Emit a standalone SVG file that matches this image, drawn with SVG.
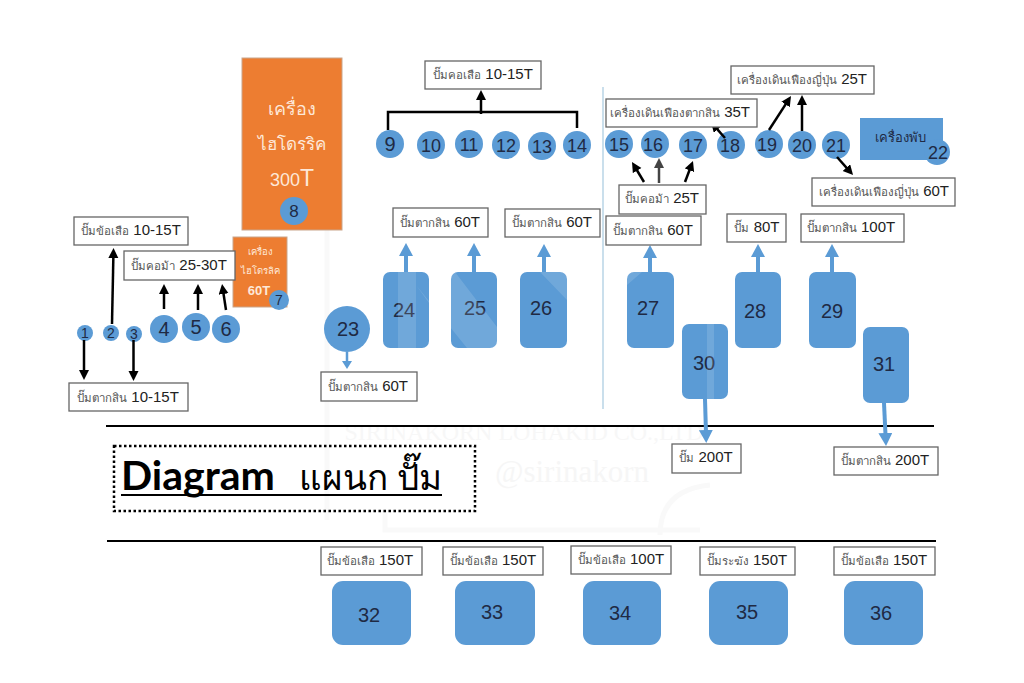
<svg xmlns="http://www.w3.org/2000/svg" width="1024" height="683" viewBox="0 0 1024 683">
<defs>
<marker id="ab" markerUnits="userSpaceOnUse" markerWidth="10" markerHeight="11" refX="3" refY="5" orient="auto"><path d="M0 0L10 5L0 10Z" fill="#000"/></marker>
<marker id="ag" markerUnits="userSpaceOnUse" markerWidth="10" markerHeight="11" refX="3" refY="5" orient="auto"><path d="M0 0L10 5L0 10Z" fill="#444"/></marker>
<marker id="au" markerUnits="userSpaceOnUse" markerWidth="14" markerHeight="15" refX="4" refY="7" orient="auto"><path d="M0 0L13 7L0 14Z" fill="#5b9bd5"/></marker>
<marker id="as" markerUnits="userSpaceOnUse" markerWidth="9" markerHeight="11" refX="2" refY="5" orient="auto"><path d="M0 0L8 5L0 10Z" fill="#5b9bd5"/></marker>
</defs>
<style>
text{font-family:"Liberation Sans","Noto Sans",sans-serif;text-anchor:middle}
.c{fill:#5b9bd5}
.or{fill:#ed7d31;stroke:#c9a68c;stroke-width:1}
.n{font-size:20px;fill:#1f2a44}
.m{font-size:18px;fill:#1f2a44}
.ns{font-size:14px;fill:#1f2a44}
.b{fill:#fff;stroke:#666;stroke-width:1.3}
.l{font-size:15px;fill:#222}
.t{font-size:11.5px;fill:#555;font-family:"Noto Sans","Liberation Sans",sans-serif}
.w{fill:#fde8d8;font-family:"Noto Sans","Liberation Sans",sans-serif}
.a{stroke:#000;stroke-width:2.5;fill:none;marker-end:url(#ab)}
.u{stroke:#5b9bd5;stroke-width:4;fill:none;marker-end:url(#au)}
</style>
<rect width="1024" height="683" fill="#fff"/>
<g id="watermark" fill="none" stroke="#f9f9f9" stroke-width="5">
<path d="M327 200V520"/><path d="M385 510V530H700"/><path d="M660 535Q660 490 710 485"/>
<text x="524" y="440" font-size="24" fill="#f7f7f7" stroke="none" style="font-family:'Liberation Serif',serif">SIRINAKORN LOHAKID CO.,LTD</text>
<text x="572" y="482" font-size="31" fill="#f6f6f6" stroke="none" style="font-family:'Liberation Serif',serif">@sirinakorn</text>
</g>
<g id="lines">
<path d="M603 87V409" stroke="#b9d5e6" stroke-width="1.5" fill="none"/>
<path d="M106 426H934M107 541H936" stroke="#000" stroke-width="2" fill="none"/>
</g>
<g id="node-8"><rect class="or" x="242" y="58" width="100" height="172"/><text class="w" x="292" y="115" font-size="18">เครื่อง</text><text class="w" x="292" y="150" font-size="17">ไฮโดรริค</text><text class="w" x="292" y="186" font-size="18" style="font-family:'Liberation Sans',sans-serif">300<tspan font-size="23">T</tspan></text><circle class="c" cx="294" cy="211" r="14"/><text class="ns" x="294" y="217" style="font-size:17px">8</text></g>
<g id="node-7"><rect class="or" x="233" y="237" width="54" height="70"/><text class="w" x="260" y="255" font-size="9.500">เครื่อง</text><text class="w" x="260" y="274" font-size="9.500">ไฮโดรลิค</text><text class="w" x="259" y="295" font-size="13" font-weight="700" style="font-family:'Liberation Sans',sans-serif">60T</text><circle class="c" cx="279" cy="300" r="10"/><text class="ns" x="279" y="305">7</text></g>
<g id="node-1"><circle class="c" cx="85" cy="333" r="8"/><text class="ns" x="85" y="338">1</text></g>
<g id="node-2"><circle class="c" cx="111" cy="333" r="8"/><text class="ns" x="111" y="338">2</text></g>
<g id="node-3"><circle class="c" cx="134" cy="334" r="8"/><text class="ns" x="134" y="339">3</text></g>
<g id="node-4"><circle class="c" cx="164" cy="329" r="14"/><text class="n" x="164" y="336">4</text></g>
<g id="node-5"><circle class="c" cx="196" cy="327" r="14"/><text class="n" x="196" y="334">5</text></g>
<g id="node-6"><circle class="c" cx="226" cy="329" r="14"/><text class="n" x="226" y="336">6</text></g>
<g id="node-9"><circle class="c" cx="390" cy="144" r="14"/><text class="n" x="390" y="151">9</text></g>
<g id="node-10"><circle class="c" cx="431" cy="145" r="14"/><text class="m" x="431" y="152">10</text></g>
<g id="node-11"><circle class="c" cx="469" cy="144" r="14"/><text class="m" x="469" y="151">11</text></g>
<g id="node-12"><circle class="c" cx="506" cy="145" r="14"/><text class="m" x="506" y="152">12</text></g>
<g id="node-13"><circle class="c" cx="542" cy="146" r="14"/><text class="m" x="542" y="153">13</text></g>
<g id="node-14"><circle class="c" cx="577" cy="145" r="14"/><text class="m" x="577" y="152">14</text></g>
<g id="node-15"><circle class="c" cx="619" cy="144" r="14"/><text class="m" x="619" y="151">15</text></g>
<g id="node-16"><circle class="c" cx="655" cy="144" r="14"/><text class="m" x="653" y="151">16</text></g>
<g id="node-17"><circle class="c" cx="693" cy="145" r="14"/><text class="m" x="693" y="152">17</text></g>
<g id="node-18"><circle class="c" cx="731" cy="145" r="14"/><text class="m" x="730" y="152">18</text></g>
<g id="node-19"><circle class="c" cx="769" cy="144" r="14"/><text class="m" x="767" y="151">19</text></g>
<g id="node-20"><circle class="c" cx="802" cy="145" r="14"/><text class="m" x="802" y="152">20</text></g>
<g id="node-21"><circle class="c" cx="836" cy="145" r="14"/><text class="m" x="836" y="152">21</text></g>
<g id="node-22"><rect class="c" x="860" y="118" width="83" height="42"/><text x="900" y="142" font-size="13" fill="#1f2a44" style="font-family:'Noto Sans',sans-serif">เครื่องพับ</text><circle class="c" cx="937" cy="152" r="13"/><text class="m" x="938" y="159">22</text></g>
<g id="node-23"><circle class="c" cx="347" cy="329" r="23"/><text class="n" x="348" y="336">23</text></g>
<g id="node-24"><rect class="c" x="383" y="272" width="46" height="76" rx="7"/><text class="n" x="404" y="317">24</text></g>
<g id="node-25"><rect class="c" x="451" y="272" width="46" height="76" rx="7"/><text class="n" x="475" y="315">25</text></g>
<g id="node-26"><rect class="c" x="520" y="272" width="47" height="76" rx="7"/><text class="n" x="541" y="315">26</text></g>
<g id="node-27"><rect class="c" x="627" y="272" width="47" height="76" rx="7"/><text class="n" x="648" y="315">27</text></g>
<g id="node-28"><rect class="c" x="735" y="272" width="46" height="76" rx="7"/><text class="n" x="755" y="318">28</text></g>
<g id="node-29"><rect class="c" x="809" y="272" width="47" height="76" rx="7"/><text class="n" x="832" y="318">29</text></g>
<g id="node-30"><rect class="c" x="682" y="324" width="46" height="75" rx="7"/><text class="n" x="704" y="370">30</text></g>
<g id="node-31"><rect class="c" x="863" y="327" width="46" height="76" rx="7"/><text class="n" x="884" y="371">31</text></g>
<g id="node-32"><rect class="c" x="332" y="581" width="79" height="64" rx="11"/><text class="n" x="369" y="622">32</text></g>
<g id="node-33"><rect class="c" x="455" y="581" width="80" height="64" rx="11"/><text class="n" x="492" y="619">33</text></g>
<g id="node-34"><rect class="c" x="583" y="581" width="78" height="64" rx="11"/><text class="n" x="620" y="620">34</text></g>
<g id="node-35"><rect class="c" x="709" y="581" width="79" height="64" rx="11"/><text class="n" x="747" y="619">35</text></g>
<g id="node-36"><rect class="c" x="844" y="581" width="79" height="64" rx="11"/><text class="n" x="881" y="620">36</text></g>
<g id="watermark-overlay" fill="#fff" opacity=".13">
<path d="M398 272H416V348H398Z"/>
<path d="M416 285L467 348H497V327L455 272H429V303L416 285Z"/>
<path d="M540 272H567V300Z"/>
<path d="M707 324H714V399H707Z"/>
<path d="M627 285V279Q627 272 634 272H642Z"/>
</g>
<g id="connectors">
<path class="a" d="M84 340V373"/>
<path class="a" d="M112 324L113.400 255"/>
<path class="a" d="M133.500 340V374"/>
<path class="a" d="M164 309V291"/>
<path class="a" d="M198 310V291"/>
<path class="a" d="M226 310L223.100 291"/>
<path d="M388 130V112H577V128" stroke="#000" stroke-width="2.500" fill="none"/>
<path class="a" d="M481 114V97"/>
<path class="a" d="M644 182L635.600 168"/>
<path d="M659 183V165" stroke="#444" stroke-width="2.500" fill="none" marker-end="url(#ag)"/>
<path class="a" d="M685 182L690.500 167.500"/>
<path class="a" d="M725 138L715.600 127.300"/>
<path class="a" d="M769 130L787.200 101.900"/>
<path class="a" d="M802 131V102"/>
<path class="a" d="M837 157L848.400 169.800"/>
<path d="M347 352V363" stroke="#5b9bd5" stroke-width="2.500" fill="none" marker-end="url(#as)"/>
<path class="u" d="M406 272V252"/>
<path class="u" d="M474 272V252"/>
<path class="u" d="M544 272V253"/>
<path class="u" d="M650 272V254"/>
<path class="u" d="M758 272V253"/>
<path class="u" d="M832 272V253"/>
<path class="u" d="M705 399L706 434"/>
<path class="u" d="M884 403L885.600 437"/>
</g>
<g id="label-a"><rect class="b" x="74" y="217" width="114" height="28"/><text class="l" x="131" y="235"><tspan class="t">ปั๊มข้อเสือ</tspan> 10-15T</text></g>
<g id="label-b"><rect class="b" x="124" y="251" width="111" height="29"/><text class="l" x="179" y="270"><tspan class="t">ปั๊มคอม้า</tspan> 25-30T</text></g>
<g id="label-c"><rect class="b" x="69" y="383" width="119" height="28"/><text class="l" x="128" y="402"><tspan class="t">ปั๊มตากสิน</tspan> 10-15T</text></g>
<g id="label-d"><rect class="b" x="425" y="61" width="116" height="28"/><text class="l" x="483" y="79"><tspan class="t">ปั๊มคอเสือ</tspan> 10-15T</text></g>
<g id="label-e"><rect class="b" x="731" y="66" width="143" height="28"/><text class="l" x="802" y="84"><tspan class="t">เครื่องเดินเฟืองญี่ปุ่น</tspan> 25T</text></g>
<g id="label-f"><rect class="b" x="606" y="99" width="151" height="28"/><text class="l" x="680" y="117"><tspan class="t">เครื่องเดินเฟืองตากสิน</tspan> 35T</text></g>
<g id="label-g"><rect class="b" x="619" y="185" width="87" height="29"/><text class="l" x="662" y="203"><tspan class="t">ปั๊มคอม้า</tspan> 25T</text></g>
<g id="label-h"><rect class="b" x="812" y="178" width="143" height="28"/><text class="l" x="884" y="196"><tspan class="t">เครื่องเดินเฟืองญี่ปุ่น</tspan> 60T</text></g>
<g id="label-i"><rect class="b" x="606" y="216" width="95" height="29"/><text class="l" x="653" y="235"><tspan class="t">ปั๊มตากสิน</tspan> 60T</text></g>
<g id="label-j"><rect class="b" x="727" y="214" width="59" height="28"/><text class="l" x="757" y="232"><tspan class="t">ปั๊ม</tspan> 80T</text></g>
<g id="label-k"><rect class="b" x="801" y="214" width="103" height="28"/><text class="l" x="851" y="232"><tspan class="t">ปั๊มตากสิน</tspan> 100T</text></g>
<g id="label-l"><rect class="b" x="393" y="208" width="95" height="29"/><text class="l" x="440" y="227"><tspan class="t">ปั๊มตากสิน</tspan> 60T</text></g>
<g id="label-m"><rect class="b" x="505" y="209" width="95" height="28"/><text class="l" x="552" y="227"><tspan class="t">ปั๊มตากสิน</tspan> 60T</text></g>
<g id="label-n"><rect class="b" x="321" y="372" width="96" height="29"/><text class="l" x="368" y="391"><tspan class="t">ปั๊มตากสิน</tspan> 60T</text></g>
<g id="label-o"><rect class="b" x="672" y="444" width="69" height="29"/><text class="l" x="706" y="462"><tspan class="t">ปั๊ม</tspan> 200T</text></g>
<g id="label-p"><rect class="b" x="834" y="447" width="104" height="28"/><text class="l" x="885" y="465"><tspan class="t">ปั๊มตากสิน</tspan> 200T</text></g>
<g id="label-q"><rect class="b" x="321" y="547" width="101" height="28"/><text class="l" x="370" y="565"><tspan class="t">ปั๊มข้อเสือ</tspan> 150T</text></g>
<g id="label-r"><rect class="b" x="443" y="547" width="100" height="28"/><text class="l" x="493" y="565"><tspan class="t">ปั๊มข้อเสือ</tspan> 150T</text></g>
<g id="label-s"><rect class="b" x="571" y="546" width="100" height="28"/><text class="l" x="621" y="564"><tspan class="t">ปั๊มข้อเสือ</tspan> 100T</text></g>
<g id="label-t"><rect class="b" x="700" y="547" width="95" height="28"/><text class="l" x="747" y="565"><tspan class="t">ปั๊มระฆัง</tspan> 150T</text></g>
<g id="label-u"><rect class="b" x="834" y="547" width="101" height="28"/><text class="l" x="884" y="565"><tspan class="t">ปั๊มข้อเสือ</tspan> 150T</text></g>
<g id="title"><rect x="114" y="446" width="361" height="65" fill="none" stroke="#000" stroke-width="2.500" stroke-dasharray="2.500 2.500"/>
<text x="121" y="490" font-size="41" font-weight="700" style="text-anchor:start;font-family:Lato,'Noto Sans',sans-serif;fill:#000">Diagram</text>
<text x="442" y="490" font-size="35" style="text-anchor:end;font-family:'Noto Sans','Liberation Sans',sans-serif;fill:#000">แผนก ปั๊ม</text>
<path d="M121 495H442" stroke="#000" stroke-width="2"/></g>
</svg>
